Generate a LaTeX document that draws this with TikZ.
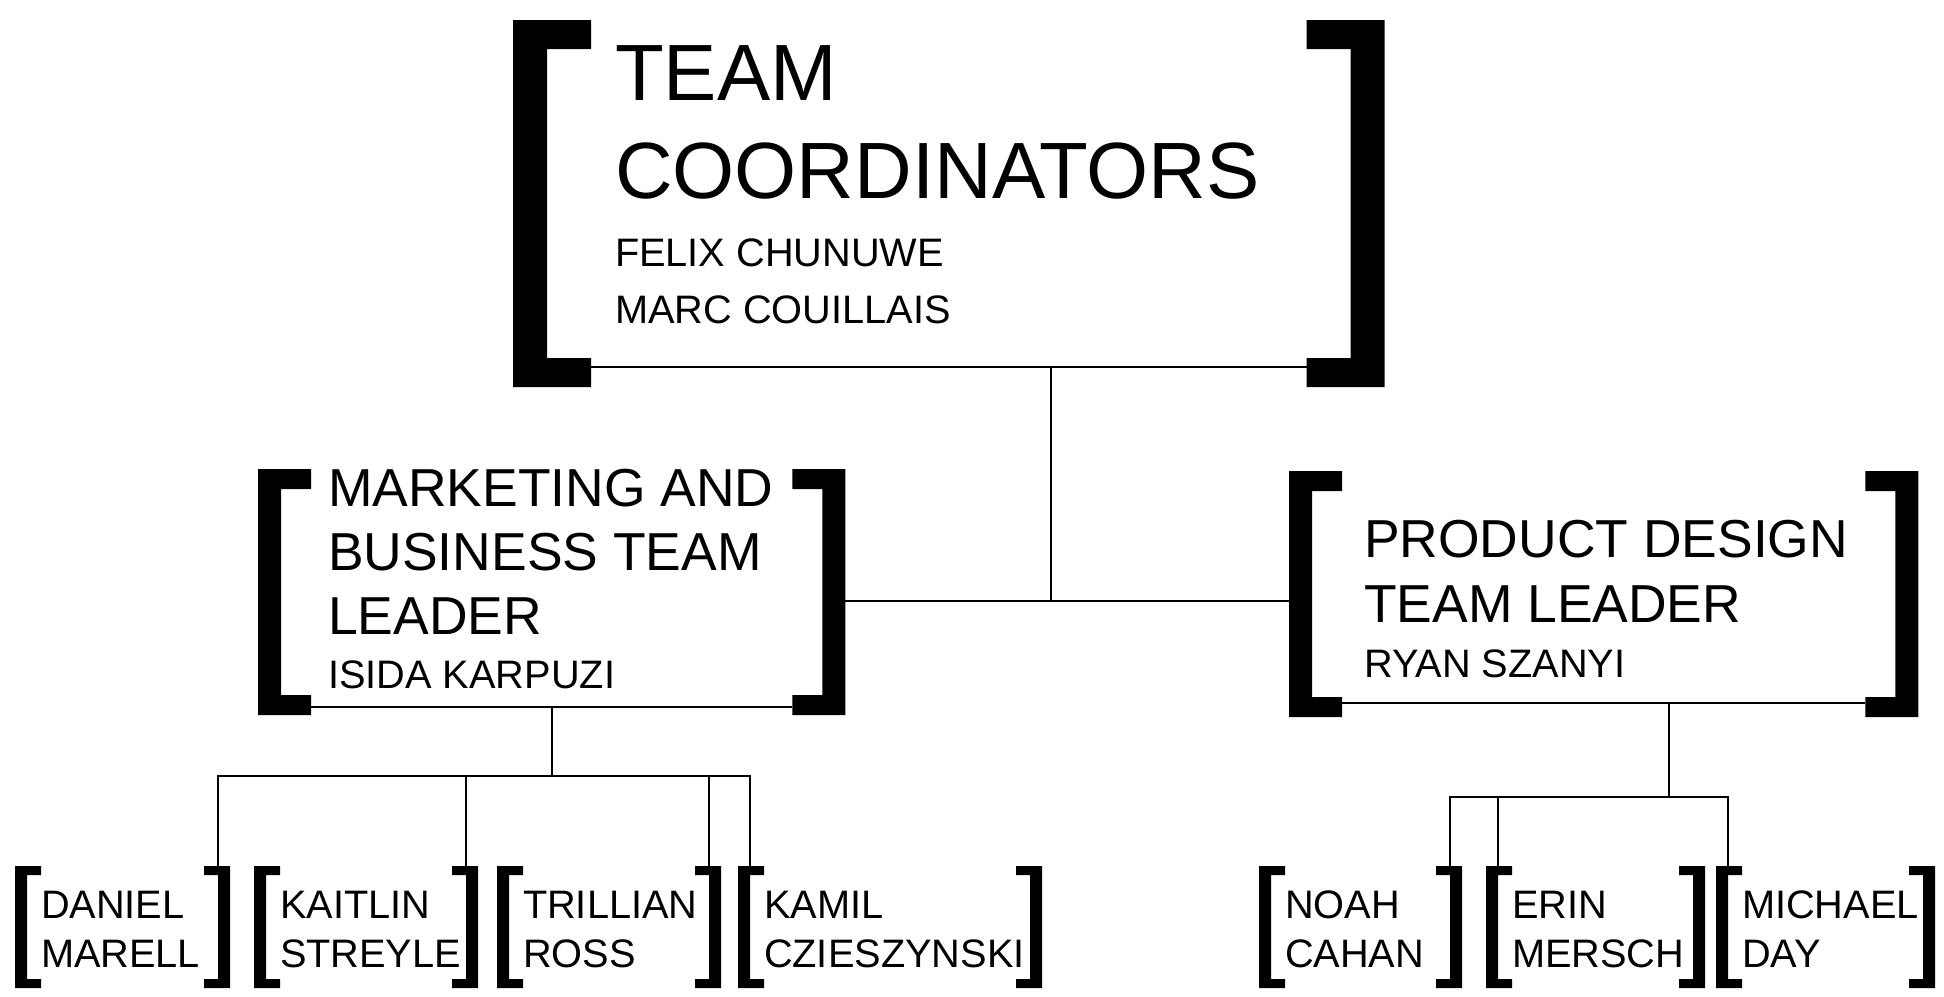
\documentclass[tikz,border=0pt]{standalone}
\usepackage{fontspec}
\setmainfont{Liberation Sans}
\usetikzlibrary{calc}

\newcommand{\titlefont}{\fontsize{22.7pt}{27pt}\selectfont}
\newcommand{\leadfont}{\fontsize{15.2pt}{18pt}\selectfont}
\newcommand{\namefont}{\fontsize{11.3pt}{13.5pt}\selectfont}

% text block of a box: width, height, left gap, rows
\newcommand{\boxtext}[4]{\vbox to #2{\offinterlineskip\hbox to #1{\hfil}\def\rowgap{#3}#4\vfil}}
\newcommand{\txtrow}[2]{\kern#1\hbox{\hskip\rowgap\smash{#2}}}

% thick square brackets on both sides of a box: node, bar, serif, thickness
\newcommand{\drawbrackets}[4]{
  \fill (#1.north west) -- ++(#3,0) -- ++(0,#4) -- ++(#2-#3,0) |- ($(#1.south west)+(#3,-#4)$) -- ++(0,#4) -- (#1.south west) -- cycle;
  \fill (#1.north east) -- ++(-#3,0) -- ++(0,#4) -- ++(#3-#2,0) |- ($(#1.south east)+(-#3,-#4)$) -- ++(0,#4) -- (#1.south east) -- cycle;
}

\tikzset{
  teambox/.style={anchor=north west, inner sep=0pt, outer sep=0pt},
  link/.style={line width=0.55pt}
}

\begin{document}
\begin{tikzpicture}[x=0.01cm, y=-0.01cm]
\useasboundingbox (0,0) rectangle (1944,996);

\node[teambox] (coord) at (513,20) {\boxtext{8.71cm}{3.67cm}{1.02cm}{%
  \txtrow{0.80cm}{\titlefont TEAM}%
  \txtrow{0.98cm}{\titlefont COORDINATORS}%
  \txtrow{0.68cm}{\namefont FELIX CHUNUWE}%
  \txtrow{0.57cm}{\namefont MARC COUILLAIS}}};

\node[teambox] (mkt) at (258,469) {\boxtext{5.87cm}{2.46cm}{0.70cm}{%
  \txtrow{0.37cm}{\leadfont MARKETING AND}%
  \txtrow{0.64cm}{\leadfont BUSINESS TEAM}%
  \txtrow{0.64cm}{\leadfont LEADER}%
  \txtrow{0.54cm}{\namefont ISIDA KARPUZI}}};

\node[teambox] (design) at (1289,471) {\boxtext{6.29cm}{2.46cm}{0.75cm}{%
  \txtrow{0.86cm}{\leadfont PRODUCT DESIGN}%
  \txtrow{0.65cm}{\leadfont TEAM LEADER}%
  \txtrow{0.55cm}{\namefont RYAN SZANYI}}};

\foreach \who/\x/\w/\firstn/\lastn in {daniel/15/2.15cm/DANIEL/MARELL, kaitlin/254/2.24cm/KAITLIN/STREYLE,
    trillian/497/2.24cm/TRILLIAN/ROSS, kamil/738/3.04cm/KAMIL/CZIESZYNSKI, noah/1259/2.03cm/NOAH/CAHAN,
    erin/1486/2.19cm/ERIN/MERSCH, michael/1716/2.19cm/MICHAEL/DAY}
  \node[teambox] (\who) at (\x,866) {\boxtext{\w}{1.22cm}{0.26cm}{%
    \txtrow{0.52cm}{\namefont\firstn}\txtrow{0.49cm}{\namefont\lastn}}};

\drawbrackets{coord}{34}{78}{29}
\drawbrackets{mkt}{23}{53}{20}
\drawbrackets{design}{23}{53}{20}
\foreach \who in {daniel,kaitlin,trillian,kamil,noah,erin,michael}
  {\drawbrackets{\who}{12}{26}{9}}

\draw[link] ($(coord.south west)+(78,-20)$) -- ($(coord.south east)+(-78,-20)$);
\draw[link] ($(mkt.south west)+(53,-8)$) -- ($(mkt.south east)+(-53,-8)$);
\draw[link] ($(design.south west)+(53,-14)$) -- ($(design.south east)+(-53,-14)$);

\coordinate (join) at (1051,601);
\draw[link] ($(coord.south -| join)+(0,-20)$) -- (join);
\draw[link] (mkt.east |- join) -- (design.west |- join);

\coordinate (mkt-bus) at ($(mkt.south)+(0,61)$);
\draw[link] ($(mkt.south)+(0,-8)$) -- (mkt-bus);
\foreach \who/\side/\dx in {daniel/north east/-12, kaitlin/north east/-12, trillian/north east/-12, kamil/north west/12}
  \draw[link] ($(\who.\side)+(\dx,0)$) |- (mkt-bus);

\coordinate (design-bus) at ($(design.south)+(65,80)$);
\draw[link] ($(design.south)+(65,-14)$) -- (design-bus);
\foreach \who/\side/\dx in {noah/north east/-12, erin/north west/12, michael/north west/12}
  \draw[link] ($(\who.\side)+(\dx,0)$) |- (design-bus);
\end{tikzpicture}
\end{document}
